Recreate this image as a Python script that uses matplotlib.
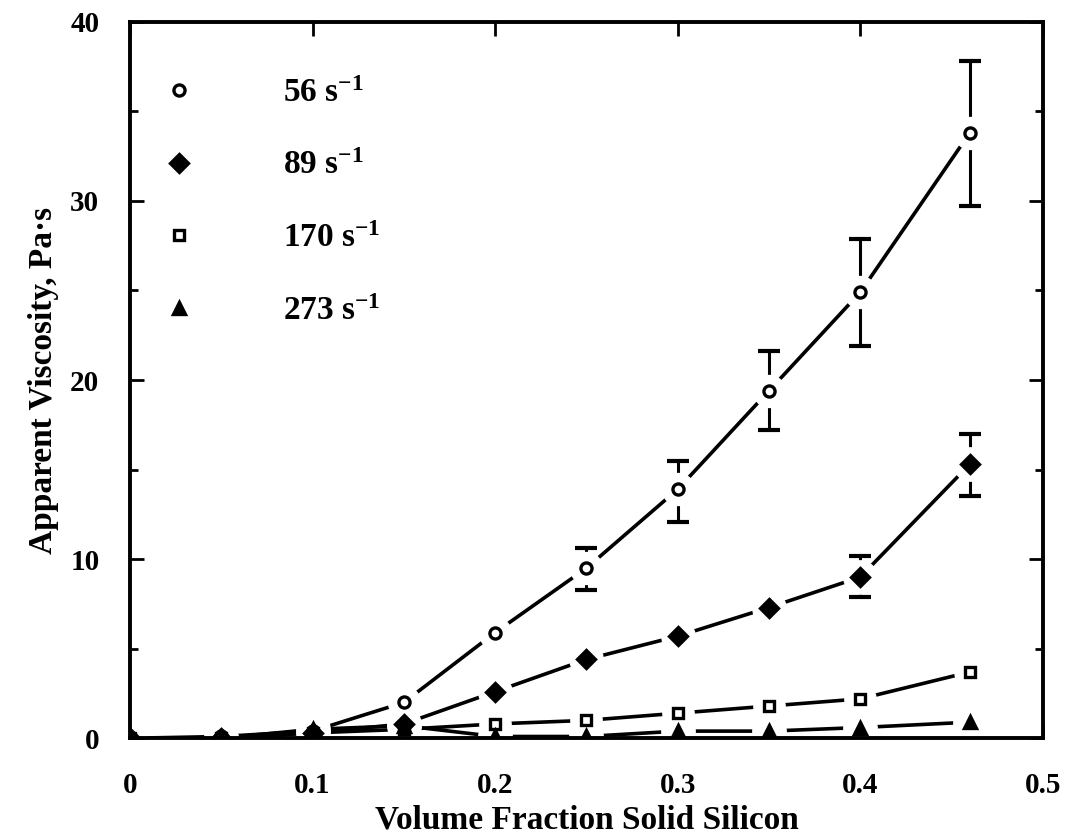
import matplotlib
matplotlib.use("Agg")
import matplotlib.pyplot as plt
from matplotlib.lines import Line2D
from matplotlib.ticker import MultipleLocator

plt.rcParams["font.family"] = ["Liberation Serif", "DejaVu Serif"]
plt.rcParams["font.weight"] = "bold"
plt.rcParams["mathtext.fontset"] = "custom"
plt.rcParams["mathtext.rm"] = "Liberation Serif:bold"
plt.rcParams["mathtext.bf"] = "Liberation Serif:bold"
plt.rcParams["mathtext.default"] = "bf"

# --- data ---
phi = [0.0, 0.05, 0.10, 0.15, 0.20, 0.25, 0.30, 0.35, 0.40, 0.46]
visc_56 = [0.0, 0.1, 0.4, 2.0, 5.9, 9.5, 13.9, 19.4, 24.9, 33.8]
visc_89 = [0.0, 0.0, 0.3, 0.8, 2.6, 4.4, 5.7, 7.3, 9.0, 15.3]
visc_170 = [0.0, 0.0, 0.3, 0.5, 0.8, 1.0, 1.4, 1.8, 2.2, 3.7]
visc_273 = [0.0, 0.0, 0.5, 0.7, 0.1, 0.1, 0.4, 0.4, 0.6, 0.9]

# error bars (only a few points have them)
err_56_x = [0.25, 0.30, 0.35, 0.40, 0.46]
err_56_lo = [8.3, 12.1, 17.2, 21.9, 29.7]
err_56_hi = [10.6, 15.5, 21.6, 27.9, 37.8]
err_89_x = [0.40, 0.46]
err_89_lo = [7.9, 13.5]
err_89_hi = [10.2, 17.0]

labels = ["56 s$^{-1}$", "89 s$^{-1}$", "170 s$^{-1}$", "273 s$^{-1}$"]

fig = plt.figure(figsize=(10.92, 8.38), dpi=100)
ax = fig.add_axes([0.119, 0.119, 0.836, 0.855])

series = [
    (visc_56, dict(marker="o", mfc="white", ms=8)),
    (visc_89, dict(marker="D", mfc="black", ms=9)),
    (visc_170, dict(marker="s", mfc="white", ms=7.5)),
    (visc_273, dict(marker="^", mfc="black", ms=9)),
]

# connecting lines
for ys, st in series:
    ax.plot(phi, ys, color="black", lw=2.6, zorder=1, solid_capstyle="butt")

# error bars: stems under the halos, caps on top
for xs, lo, hi in [
    (err_56_x, err_56_lo, err_56_hi),
    (err_89_x, err_89_lo, err_89_hi),
]:
    for x, l, h in zip(xs, lo, hi):
        ax.vlines(x, l, h, color="black", lw=2.2, zorder=1)
        ax.hlines([l, h], x - 0.006, x + 0.006, color="black", lw=3, zorder=2.5)

# white halos so the lines stop short of the markers
for ys, st in series:
    ax.plot(phi, ys, ls="none", marker="o", ms=st["ms"] + 15,
            mfc="white", mec="white", zorder=2)

for ys, st in series:
    ax.plot(phi, ys, ls="none", marker=st["marker"], ms=st["ms"],
            mfc=st["mfc"], mec="black", mew=2.4, zorder=3)

ax.set_xlim(0, 0.5)
ax.set_ylim(0, 40)
ax.set_xticks([0, 0.1, 0.2, 0.3, 0.4, 0.5])
ax.set_xticklabels(["0", "0.1", "0.2", "0.3", "0.4", "0.5"])
ax.yaxis.set_major_locator(MultipleLocator(10))
ax.yaxis.set_minor_locator(MultipleLocator(5))
ax.tick_params(axis="both", which="both", direction="in", top=True, right=True,
               labelsize=21, width=2)
ax.tick_params(which="major", length=10)
ax.tick_params(which="minor", length=6)
ax.tick_params(axis="x", pad=24)
ax.tick_params(axis="y", pad=22)
for sp in ax.spines.values():
    sp.set_linewidth(2.8)

ax.set_xlabel("Volume Fraction Solid Silicon", fontsize=24, fontweight="bold",
              labelpad=4)
ax.set_ylabel("Apparent Viscosity, Pa·s", fontsize=24, fontweight="bold",
              labelpad=8)

handles = [
    Line2D([], [], ls="none", marker=st["marker"], ms=st["ms"],
           mfc=st["mfc"], mec="black", mew=2.4)
    for _, st in series
]
ax.legend(handles, labels, loc="upper left", bbox_to_anchor=(0.036, 0.922),
          frameon=False, fontsize=24, handlelength=1.0, handletextpad=2.6,
          labelspacing=1.25, borderaxespad=0, borderpad=0)

fig.savefig("out.png", dpi=100)
